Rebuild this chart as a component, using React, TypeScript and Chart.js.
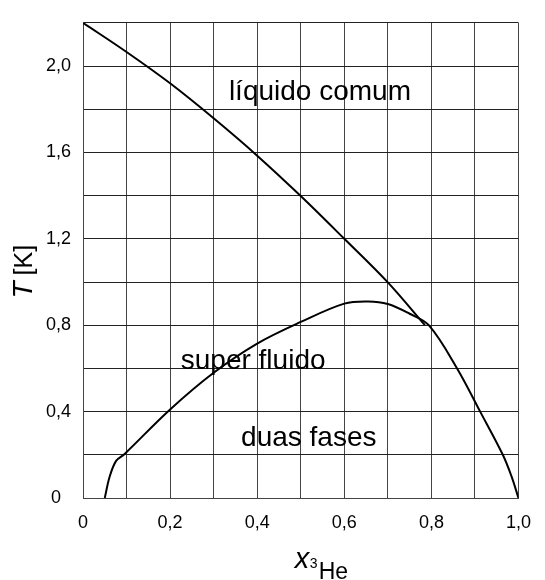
import React, { useEffect, useRef } from 'react';
import { Chart, registerables } from 'chart.js';

Chart.register(...registerables);

// Lambda line (superfluid transition)
const lambdaX = [0, 0.1, 0.2, 0.3, 0.4, 0.5, 0.6, 0.7, 0.785];
const lambdaT = [2.2, 2.065, 1.92, 1.758, 1.585, 1.398, 1.2, 0.998, 0.8];

// Phase-separation dome
const domeX = [0.05, 0.061, 0.076, 0.095, 0.2, 0.3, 0.4, 0.5, 0.6, 0.655, 0.7, 0.75, 0.794, 0.859, 0.912, 0.964, 0.984, 1.0];
const domeT = [0, 0.097, 0.172, 0.203, 0.41, 0.58, 0.715, 0.815, 0.9, 0.91, 0.898, 0.853, 0.8, 0.6, 0.4, 0.2, 0.1, 0];

const xTickLabels = ['0', '0,2', '0,4', '0,6', '0,8', '1,0'];
const yTickLabels = ['0  ', '0,4', '0,8', '1,2', '1,6', '2,0'];

const regionLabels = ['líquido comum', 'super fluido', 'duas fases'];
const regionX = [0.335, 0.2245, 0.363];
const regionT = [1.843, 0.599, 0.24];

const FONT = '"Liberation Sans", Arial, Helvetica, sans-serif';

const toPoints = (xs: number[], ys: number[]) => xs.map((x, i) => ({ x, y: ys[i] }));

const textPlugin = {
  id: 'texts',
  afterDraw(chart: any) {
    const ctx = chart.ctx;
    const xs = chart.scales.x;
    const ys = chart.scales.y;
    ctx.save();
    ctx.fillStyle = '#000';
    ctx.textBaseline = 'alphabetic';
    ctx.textAlign = 'left';
    // region labels
    ctx.font = `28px ${FONT}`;
    regionLabels.forEach((t, i) => {
      ctx.fillText(t, xs.getPixelForValue(regionX[i]), ys.getPixelForValue(regionT[i]));
    });
    // x axis title: x_3He
    const cx = (chart.chartArea.left + chart.chartArea.right) / 2;
    ctx.font = `italic 29px ${FONT}`;
    ctx.fillText('x', cx - 6, 568);
    ctx.font = `14px ${FONT}`;
    ctx.fillText('3', cx + 9, 568);
    ctx.font = `23px ${FONT}`;
    ctx.fillText('He', cx + 18, 579);
    // y axis title: T [K]
    const cy = (chart.chartArea.top + chart.chartArea.bottom) / 2;
    ctx.translate(32, cy + 38);
    ctx.rotate(-Math.PI / 2);
    ctx.font = `italic 28px ${FONT}`;
    ctx.fillText('T', 0, 0);
    ctx.font = `25px ${FONT}`;
    ctx.fillText('[K]', 23, 0);
    ctx.restore();
  },
};

export default function App() {
  const ref = useRef<HTMLCanvasElement | null>(null);
  useEffect(() => {
    if (!ref.current) return;
    const chart = new Chart(ref.current, {
      type: 'scatter',
      data: {
        datasets: [
          {
            data: toPoints(lambdaX, lambdaT),
            showLine: true,
            borderColor: '#000',
            borderWidth: 2,
            pointRadius: 0,
            tension: 0.35,
          },
          {
            data: toPoints(domeX, domeT),
            showLine: true,
            borderColor: '#000',
            borderWidth: 2,
            pointRadius: 0,
            tension: 0.35,
          },
        ],
      },
      options: {
        animation: false,
        responsive: false,
        devicePixelRatio: 1,
        layout: { padding: { top: 13, right: 21, left: 0, bottom: 0 } },
        plugins: { legend: { display: false }, tooltip: { enabled: false } },
        scales: {
          x: {
            type: 'linear',
            min: 0,
            max: 1,
            ticks: {
              stepSize: 0.1,
              autoSkip: false,
              maxRotation: 0,
              padding: 14,
              color: '#000',
              font: { family: FONT, size: 18 },
              callback: (_v: any, i: number) => (i % 2 === 0 ? xTickLabels[i / 2] ?? '' : ''),
            },
            grid: { color: '#444', lineWidth: 1, drawTicks: false },
            border: { color: '#444', width: 1 },
            afterFit: (s: any) => { s.height = 82; },
          },
          y: {
            type: 'linear',
            min: 0,
            max: 2.2,
            ticks: {
              stepSize: 0.2,
              autoSkip: false,
              padding: 12,
              color: '#000',
              font: { family: FONT, size: 18 },
              callback: (_v: any, i: number) => (i % 2 === 0 ? yTickLabels[i / 2] ?? '' : ''),
            },
            grid: { color: '#222', lineWidth: 1, drawTicks: false },
            border: { color: '#444', width: 1 },
            afterFit: (s: any) => { s.width = 83; },
          },
        },
      },
      plugins: [textPlugin],
    } as any);
    return () => chart.destroy();
  }, []);
  return (
    <div style={{ position: 'fixed', left: 0, top: 0, width: 545, height: 580, background: '#fff' }}>
      <canvas ref={ref} width={545} height={580} />
    </div>
  );
}
